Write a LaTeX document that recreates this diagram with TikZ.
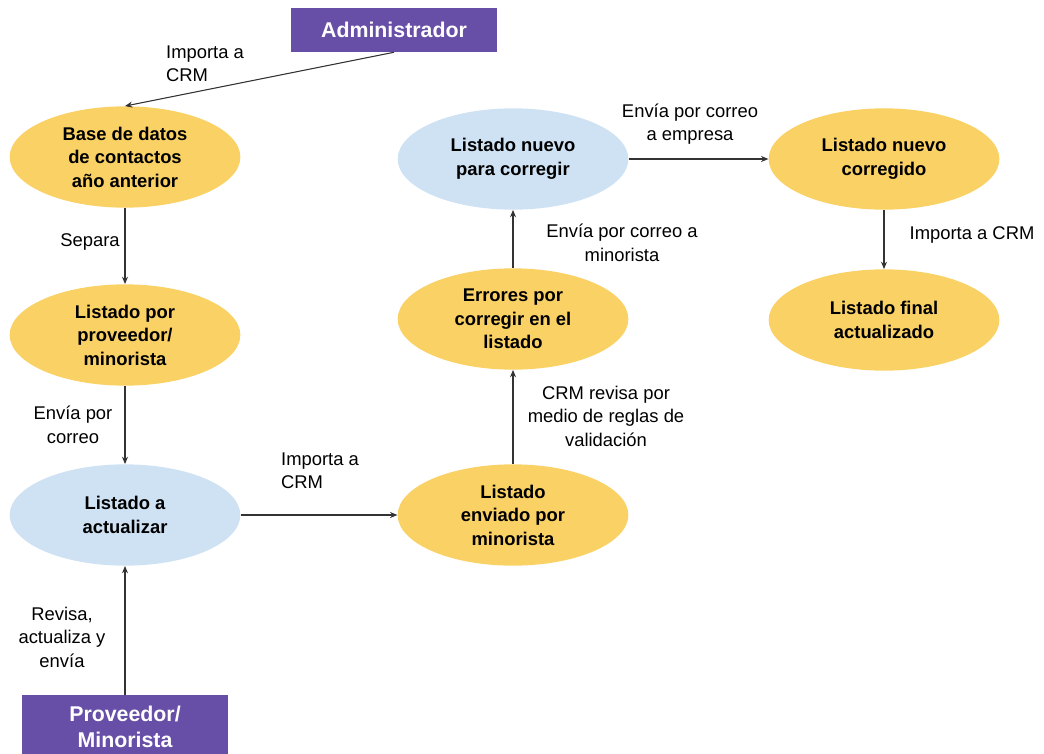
\documentclass[tikz,border=0pt]{standalone}
\usepackage{fontspec}
\setmainfont{Liberation Sans}
\usetikzlibrary{shapes.geometric,arrows.meta}
\definecolor{amarillo}{HTML}{FAD165}
\definecolor{celeste}{HTML}{CFE2F3}
\definecolor{morado}{HTML}{674EA7}
\definecolor{linea}{HTML}{333333}
\tikzset{
  estado/.style={ellipse,fill=amarillo,minimum width=173pt,minimum height=76pt,inner sep=0pt,align=center,font=\fontsize{13.8}{17.6}\selectfont\bfseries},
  lista/.style={estado,fill=celeste},
  actor/.style={rectangle,fill=morado,text=white,minimum width=155pt,align=center,font=\fontsize{16}{20}\selectfont\bfseries},
  nota/.style={align=center,font=\fontsize{13.8}{17.6}\selectfont},
  flecha/.style={draw=linea,line width=0.8pt,-{Stealth[length=5.5pt,width=4.5pt]}}
}
\begin{document}
\begin{tikzpicture}[x=0.75pt,y=-0.75pt]
\useasboundingbox (0,0) rectangle (1044,753);
\node[actor,minimum height=33pt] (admin) at (394,30) {Administrador};
\node[actor,minimum height=48pt] (prov) at (125,727) {Proveedor/\\Minorista};
\node[estado] (base) at (125,157) {Base de datos\\de contactos\\año anterior};
\node[estado] (porprov) at (125,335) {Listado por\\proveedor/\\minorista};
\node[lista] (actualizar) at (125,515) {Listado a\\actualizar};
\node[estado] (enviado) at (513,515) {Listado\\enviado por\\minorista};
\node[estado] (errores) at (513,319) {Errores por\\corregir en el\\listado};
\node[lista] (nuevo) at (513,159) {Listado nuevo\\para corregir};
\node[estado] (corregido) at (884,159) {Listado nuevo\\corregido};
\node[estado] (final) at (884,320) {Listado final\\actualizado};
% conectores
\draw[flecha] (admin.south) -- (base.north);
\draw[flecha] (base.south) -- (porprov.north);
\draw[flecha] (porprov.south) -- (actualizar.north);
\draw[flecha] (prov.north) -- (actualizar.south);
\draw[flecha] (actualizar.east) -- (enviado.west);
\draw[flecha] (enviado.north) -- (errores.south);
\draw[flecha] (errores.north) -- (nuevo.south);
\draw[flecha] (nuevo.east) -- (corregido.west);
\draw[flecha] (corregido.south) -- (final.north);
% etiquetas
\node[nota,align=left] (t1) at (205,64) {Importa a\\CRM};
\node[nota] (t2) at (90,242) {Separa};
\node[nota] (t3) at (73,425) {Envía por\\correo};
\node[nota] (t4) at (62,637) {Revisa,\\actualiza y\\envía};
\node[nota,align=left] (t5) at (320,471) {Importa a\\CRM};
\node[nota] (t6) at (606,416) {CRM revisa por\\medio de reglas de\\validación};
\node[nota] (t7) at (622,243) {Envía por correo a\\minorista};
\node[nota] (t8) at (690,124) {Envía por correo\\a empresa};
\node[nota] (t9) at (972,235) {Importa a CRM};
\end{tikzpicture}
\end{document}
